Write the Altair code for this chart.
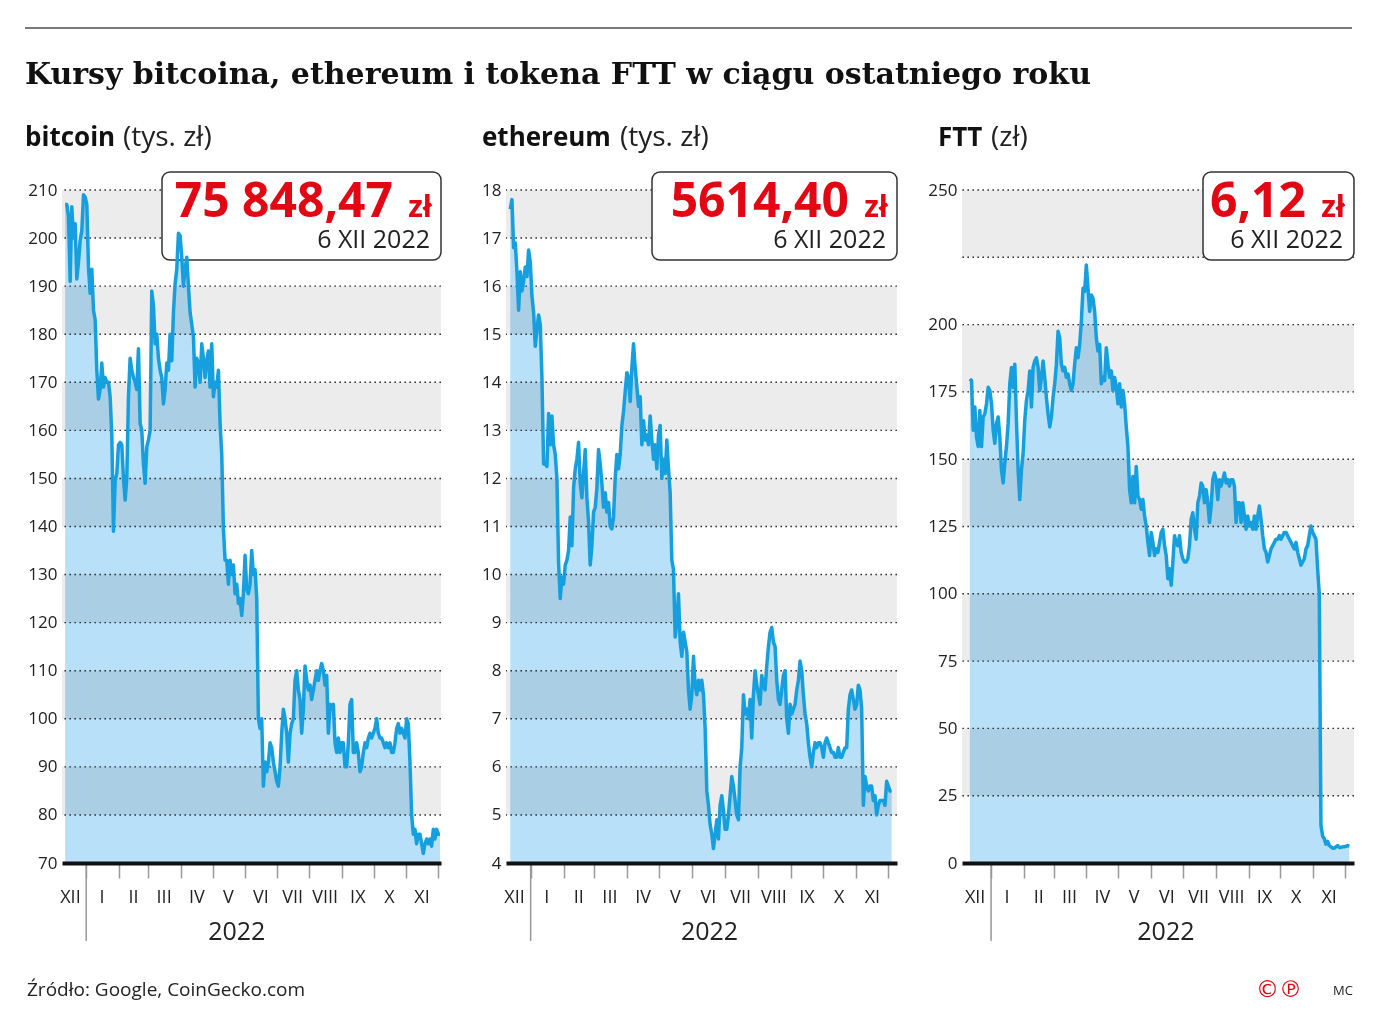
import altair as alt
import pandas as pd

# ---------------- data ----------------
BTC_VALUES = [
    207, 207, 204.5, 191, 206.5, 200, 203, 191.5, 195, 199.5, 201.5, 209, 208.5, 207, 194, 188.5, 193.5, 185, 183, 172.5,
    166.5, 168.5, 174, 169, 171, 170, 170, 167, 159, 139, 149.5, 151, 157, 157.5, 157, 150, 145.5, 150, 167, 175,
    172.5, 171, 170, 168.5, 177, 161.5, 160, 153, 149, 156.5, 158, 160, 189, 186, 178, 180, 175, 172.5, 171, 165.5,
    168.5, 174, 172.5, 180, 174.5, 184.5, 190.5, 193.5, 201, 200.5, 196, 190, 193.5, 196, 190, 184.5, 182, 179.5, 169, 175,
    174, 170, 178, 175, 171, 174.5, 176.5, 169, 178, 167, 170, 169, 172.5, 161.5, 155, 139.5, 133, 133, 128, 133,
    130, 132, 126, 128, 124, 125, 121.5, 126, 134, 127, 126, 128, 135, 130, 131, 125, 100, 98, 100, 86,
    91, 89, 91, 95, 94, 91, 89, 87, 86, 90, 97, 102, 100, 97, 91, 97, 99, 100, 108, 110,
    106, 104, 97, 102, 111, 108, 106, 107, 104, 106, 108, 110, 108, 110, 111.5, 110, 107, 109, 97, 103,
    102, 103, 95, 93, 96, 93, 95, 95, 90, 90, 95, 103, 104, 93, 93, 95, 93, 89, 90, 93,
    95, 94, 96, 97, 96, 97, 98, 100, 97, 96, 96, 95, 94, 95, 94, 95, 93, 93, 95, 98,
    99, 97, 98, 97, 96, 100, 99, 91, 80, 76, 77, 74, 76, 76, 74, 72, 74, 75, 74, 75,
    73.5, 77, 75, 77, 76, 76,
]
ETH_VALUES = [
    17.6, 17.8, 16.8, 16.9, 16.3, 15.5, 16.3, 15.9, 16.1, 16.4, 16.2, 16.75, 16.5, 15.8, 15.45, 14.75, 15.1, 15.4, 15.2, 14.1,
    12.3, 12.3, 12.25, 13.35, 12.7, 13.3, 12.7, 12.5, 12.0, 10.25, 9.5, 9.95, 9.8, 10.2, 10.3, 10.5, 11.2, 10.6, 11.8, 12.2,
    12.4, 12.75, 11.9, 11.6, 12.1, 12.6, 11.6, 11.1, 10.2, 10.6, 11.3, 11.4, 11.8, 12.6, 12.3, 11.9, 11.4, 11.7, 11.3, 11.5,
    11.0, 10.95, 11.2, 12.0, 12.5, 12.2, 12.5, 13.1, 13.4, 13.8, 14.2, 14.1, 13.6, 14.3, 14.8, 14.3, 13.9, 13.5, 13.7, 12.7,
    13.2, 12.8, 12.9, 12.7, 13.3, 12.8, 12.4, 12.7, 12.2, 12.9, 13.1, 12.0, 12.4, 12.1, 12.8, 12.2, 11.7, 10.3, 10.1, 8.7,
    9.0, 9.6, 8.6, 8.3, 8.8, 8.6, 8.4, 7.6, 7.2, 7.5, 8.3, 7.7, 7.5, 7.8, 7.6, 7.8, 7.5, 6.8, 5.5, 5.2,
    4.8, 4.6, 4.3, 4.6, 4.9, 4.5, 5.2, 5.4, 5.1, 4.7, 4.7, 5.0, 5.4, 5.8, 5.6, 5.3, 5.0, 4.9, 6.0, 6.4,
    7.5, 7.1, 7.2, 7.0, 7.4, 6.6, 7.5, 8.0, 7.7, 7.5, 7.3, 7.9, 7.7, 7.6, 8.1, 8.5, 8.8, 8.9, 8.6, 8.5,
    7.8, 7.4, 7.3, 7.6, 7.9, 8.0, 7.0, 6.7, 7.3, 7.1, 7.2, 7.3, 7.6, 7.8, 8.2, 8.0, 7.5, 7.1, 6.9, 6.5,
    6.2, 6.0, 6.3, 6.5, 6.4, 6.5, 6.5, 6.4, 6.2, 6.5, 6.6, 6.5, 6.4, 6.3, 6.3, 6.2, 6.2, 6.4, 6.2, 6.2,
    6.3, 6.4, 6.4, 7.2, 7.5, 7.6, 7.4, 7.2, 7.3, 7.7, 7.6, 7.2, 5.2, 5.8, 5.6, 5.5, 5.6, 5.6, 5.3, 5.4,
    5.0, 5.2, 5.3, 5.3, 5.3, 5.2, 5.7, 5.6, 5.5, 5.5,
]
FTT_VALUES = [
    179.8, 179.2, 160.8, 169.4, 158.3, 154.7, 168.1, 154.7, 165.7, 166.9, 170.6, 176.7, 175.5, 170.6, 160.8, 155.9, 163.2, 165.7, 158.3, 146,
    141.2, 148.5, 154.7, 163.2, 178, 184.1, 176.7, 185.3, 164.5, 146, 135, 146, 152.2, 164.5, 171.8, 175.5, 182.8, 169.4, 184.1, 186.5,
    187.7, 184.1, 175.5, 180.4, 186.5, 180.4, 173, 166.9, 162, 165.7, 173, 178, 185.3, 197.5, 195.1, 185.3, 182.8, 184.1, 180.4, 181.6,
    178, 175.5, 178, 185.3, 191.4, 187.7, 192.6, 201.2, 213.5, 212.3, 222.1, 213.5, 204.9, 211, 209.8, 204.9, 195.1, 190.2, 192.6, 178,
    180.4, 179.2, 191.4, 185.3, 180.4, 182.8, 175.5, 180.4, 176.7, 170.6, 178, 169.4, 175.5, 170.6, 162, 154.7, 138.7, 133.8, 143.6, 133.8,
    147.3, 136.3, 135, 131.4, 135, 128.9, 125.2, 119.1, 114.2, 122.8, 119.1, 114.2, 116.7, 115.4, 119.1, 122.8, 124, 117.9, 114.2, 105.6,
    109.3, 103.2, 111.8, 121.6, 119.1, 117.9, 121.6, 115.4, 113, 111.8, 111.8, 113, 117.9, 127.7, 130.1, 124, 120.3, 133.8, 136.3, 141.2,
    140, 133.8, 138.7, 133.8, 126.5, 132.6, 142.4, 144.9, 142.4, 135, 142.4, 140, 142.4, 144.9, 141.2, 142.4, 140, 142.4, 142.4, 140,
    126.5, 133.8, 133.8, 126.5, 133.8, 128.9, 124, 128.9, 125.2, 126.5, 124, 128.9, 124, 128.9, 132.6, 127.7, 121.6, 116.7, 115.4, 111.8,
    114.2, 116.7, 117.9, 119.1, 120.3, 120.3, 121.6, 120.3, 121.6, 122.8, 122.8, 121.6, 120.3, 119.1, 117.9, 116.7, 119.1, 115.4, 113, 110.6,
    111.8, 113, 116.7, 117.9, 121.6, 125.2, 122.8, 121.6, 120.3, 109.3, 100, 14, 10, 9, 7, 8, 6.5, 6, 5.5, 5.5,
    6, 6.5, 5.8, 5.8, 6, 6, 6.2, 6.5, 6.2,
]
BTC_DATES = ("2021-12-12", "2022-12-03")
ETH_DATES = ("2021-12-13", "2022-12-04")
FTT_DATES = ("2021-12-12", "2022-12-05")

MONTH_LABELS = ["XII", "I", "II", "III", "IV", "V", "VI", "VII", "VIII", "IX", "X", "XI"]
MONTH_LABEL_DATES = ["2021-12-17", "2022-01-16", "2022-02-15", "2022-03-16", "2022-04-16", "2022-05-16",
                     "2022-06-16", "2022-07-16", "2022-08-16", "2022-09-16", "2022-10-16", "2022-11-16"]

BTC_TICKS = [70, 80, 90, 100, 110, 120, 130, 140, 150, 160, 170, 180, 190, 200, 210]
ETH_TICKS = [4, 5, 6, 7, 8, 9, 10, 11, 12, 13, 14, 15, 16, 17, 18]
FTT_TICKS = [0, 25, 50, 75, 100, 125, 150, 175, 200, 250]
FTT_GRID = [25, 50, 75, 100, 125, 150, 175, 200, 225, 250]
BTC_BANDS = [(80, 90), (100, 110), (120, 130), (140, 150), (160, 170), (180, 190), (200, 210)]
ETH_BANDS = [(5, 6), (7, 8), (9, 10), (11, 12), (13, 14), (15, 16), (17, 18)]
FTT_BANDS = [(25, 50), (75, 100), (125, 150), (175, 200), (225, 250)]

BTC_LAST = "75 848,47"
ETH_LAST = "5614,40"
FTT_LAST = "6,12"
LAST_DATE = "6 XII 2022"

TITLE = "Kursy bitcoina, ethereum i tokena FTT w ciągu ostatniego roku"
SOURCE = "Źródło: Google, CoinGecko.com"

# ---------------- styles ----------------
H = 673
SANS = "Open Sans"
AREA = "#b8e0f8"
BAND = "#ececec"
LINE = "#159fdf"
RED = "#e30613"
TXT = "#222222"

one = pd.DataFrame({"k": [0]})


def dt(s):
    t = pd.Timestamp(s)
    return alt.DateTime(year=t.year, month=t.month, date=t.day, hours=t.hour)


def text(txt, x, y, size, weight="normal", color=TXT, align="left", font=SANS):
    return alt.Chart(pd.DataFrame({"t": [txt]})).mark_text(
        font=font, fontSize=size, fontWeight=weight, color=color, align=align, baseline="alphabetic"
    ).encode(x=alt.value(x), y=alt.value(y), text="t:N")


def panel(values, drange, dom, width, ymin, ymax, ticks, grid_vals, bands, last, box_x1,
          bold, rest, bold_x, rest_x, year_date, extras=()):
    df = pd.DataFrame({"date": pd.date_range(drange[0], drange[1], periods=len(values)), "value": values})
    xs = alt.Scale(domain=[dt(dom[0]), dt(dom[1])])
    xaxis = alt.Axis(values=[alt.DateTime(year=2022, month=m, date=1) for m in range(1, 13)],
                     labels=False, title=None, grid=False, ticks=True, tickSize=15, tickColor="#999999",
                     tickWidth=1.5, domainColor="#111111", domainWidth=4, zindex=1)
    ys = alt.Scale(domain=[ymin, ymax], nice=False, zero=False)
    yaxis = alt.Axis(values=ticks, title=None, domain=False, ticks=False, grid=False, labelFont=SANS,
                     labelFontSize=17, labelColor=TXT, labelPadding=5, format="d")

    def X(f):
        return alt.X(f, type="temporal", scale=xs, axis=xaxis, title=None)

    def Y(f):
        return alt.Y(f, type="quantitative", scale=ys, axis=yaxis, title=None)

    area = alt.Chart(df).mark_area(color=AREA).encode(x=X("date"), y=Y("value"), y2=alt.Y2(datum=ymin))
    band = alt.Chart(pd.DataFrame(bands, columns=["lo", "hi"])).mark_rect(
        color=BAND, blend="multiply").encode(y=Y("lo"), y2=alt.Y2("hi"))
    grid = alt.Chart(pd.DataFrame({"v": grid_vals})).mark_rule(
        color="#333333", strokeWidth=1.4, strokeDash=[1.6, 3.4]).encode(y=Y("v"))
    line = alt.Chart(df).mark_line(color=LINE, strokeWidth=3.5, strokeJoin="round").encode(
        x=X("date"), y=Y("value"))
    mdf = pd.DataFrame({"d": pd.to_datetime(MONTH_LABEL_DATES), "t": MONTH_LABELS})
    months = alt.Chart(mdf).mark_text(font=SANS, fontSize=18, color=TXT, baseline="alphabetic").encode(
        x=X("d"), y=alt.value(H + 40), text="t:N")
    year = alt.Chart(pd.DataFrame({"d": [pd.Timestamp(year_date)], "t": ["2022"]})).mark_text(
        font=SANS, fontSize=25, color=TXT, baseline="alphabetic").encode(
        x=X("d"), y=alt.value(H + 77), text="t:N")
    jan = alt.Chart(pd.DataFrame({"d": [pd.Timestamp("2022-01-01")]})).mark_rule(
        color="#999999", strokeWidth=1.5).encode(x=X("d"), y=alt.value(H), y2=alt.value(H + 78))
    box = alt.Chart(one).mark_rect(fill="white", stroke="#333333", strokeWidth=1.5, cornerRadius=8).encode(
        x=alt.value(box_x1), x2=alt.value(width), y=alt.value(-18), y2=alt.value(70))
    num = text(last, width - 48, 27, 48, "bold", RED, "right")
    zl = text("zł", width - 9, 27, 30, "bold", RED, "right")
    day = text(LAST_DATE, width - 11, 58, 25, "normal", TXT, "right")
    sub1 = text(bold, bold_x, -44, 26, "bold", "#111111")
    sub2 = text(rest, rest_x, -44, 28, "normal", TXT)
    return alt.layer(area, band, grid, box, num, zl, day, line, months, year, jan, sub1, sub2,
                     *extras).properties(width=width, height=H)


header = [
    alt.Chart(one).mark_rule(color="#7a7a7a", strokeWidth=2).encode(
        x=alt.value(-37), x2=alt.value(1290), y=alt.value(-162)),
    text(TITLE, -37, -106, 30, "bold", "#111111", font="DejaVu Serif"),
    text(SOURCE, -35, 806, 19, "normal", TXT),
]
footer_right = [
    text("©℗", 294, 807, 23, "normal", RED, font="DejaVu Sans"),
    text("MC", 371, 805, 13, "normal", TXT),
]

btc = panel(BTC_VALUES, BTC_DATES, ("2021-12-09", "2022-12-04"), 379, 70, 210, BTC_TICKS,
            BTC_TICKS[1:], BTC_BANDS, BTC_LAST, 100, "bitcoin", "(tys. zł)", -37, 61, "2022-05-24", header)
eth = panel(ETH_VALUES, ETH_DATES, ("2021-12-09", "2022-12-09"), 391, 4, 18, ETH_TICKS,
            ETH_TICKS[1:], ETH_BANDS, ETH_LAST, 146, "ethereum", "(tys. zł)", -24, 114, "2022-06-17")
ftt = panel(FTT_VALUES, FTT_DATES, ("2021-12-04 14:00", "2022-12-09 12:00"), 392, 0, 250, FTT_TICKS,
            FTT_GRID, FTT_BANDS, FTT_LAST, 241, "FTT", "(zł)", -24, 29, "2022-06-15", footer_right)

chart = alt.hconcat(btc, eth, ftt, spacing=65, bounds="flush").properties(
    padding={"left": 16, "top": 19, "right": 5, "bottom": 5},
    background="white",
).configure_view(stroke=None)

chart.save("out.html", embed_options={"renderer": "svg", "actions": False})
